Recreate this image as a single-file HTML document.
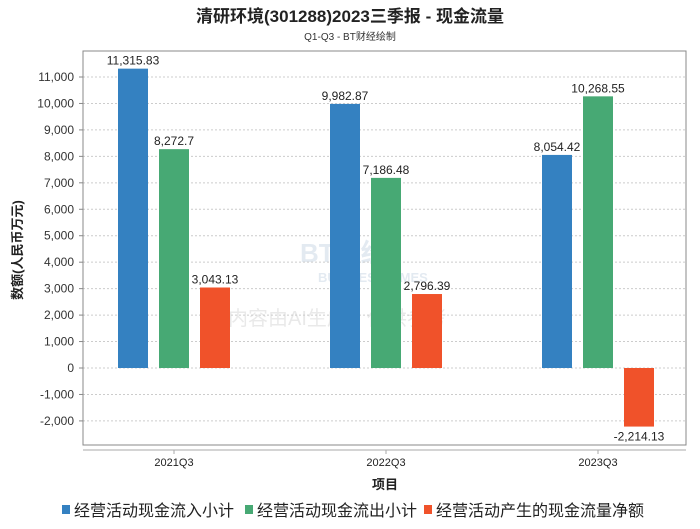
<!DOCTYPE html>
<html><head><meta charset="utf-8"><style>
body{margin:0;background:#fff;font-family:"Liberation Sans","Noto Sans CJK SC",sans-serif}
</style></head><body>
<svg width="700" height="524" xmlns="http://www.w3.org/2000/svg" font-family="Liberation Sans, Noto Sans CJK SC, sans-serif">
<text x="350" y="22" text-anchor="middle" font-size="17" font-weight="bold" fill="#222">清研环境(301288)2023三季报 - 现金流量</text>
<text x="350" y="40" text-anchor="middle" font-size="10" fill="#333">Q1-Q3 - BT财经绘制</text>
<g opacity="0.18">
<text x="300" y="262" font-size="26" font-weight="bold" fill="#6a8fb8">BT财经</text>
<text x="318" y="282" font-size="13" font-weight="bold" fill="#6a8fb8">BUSINESS TIMES</text>
<text x="228" y="325" font-size="20" fill="#888">内容由AI生成，仅供参考</text>
</g>
<g id="grid"></g>
<rect x="83" y="51" width="603" height="394" fill="none" stroke="#888"/>
<line x1="83" y1="450" x2="686" y2="450" stroke="#aaa"/>
<g id="bars"></g>
<text x="22" y="250" transform="rotate(-90 22 250)" text-anchor="middle" font-size="13" font-weight="bold" fill="#222">数额(人民币万元)</text>
<text x="385" y="489" text-anchor="middle" font-size="13" font-weight="bold" fill="#222">项目</text>
<g font-size="16" fill="#222">
<g><rect x="62" y="505" width="8" height="9" fill="#3481c1"/><text x="74" y="516">经营活动现金流入小计</text></g>
<g><rect x="245" y="505" width="8" height="9" fill="#47a974"/><text x="257" y="516">经营活动现金流出小计</text></g>
<g><rect x="424" y="505" width="8" height="9" fill="#f0522a"/><text x="436" y="516">经营活动产生的现金流量净额</text></g>
</g>
</svg>
<script>
const categories=["2021Q3","2022Q3","2023Q3"];
const inflow=[11315.83,9982.87,8054.42];
const outflow=[8272.7,7186.48,10268.55];
const net=[3043.13,2796.39,-2214.13];
const yTicks=[-2000,-1000,0,1000,2000,3000,4000,5000,6000,7000,8000,9000,10000,11000];
const NS="http://www.w3.org/2000/svg";
const y=v=>368-v*(291/11000);
const cx=i=>174+i*212;
const grid=document.getElementById('grid'),bars=document.getElementById('bars');
function mk(tag,attrs,parent,txt){const e=document.createElementNS(NS,tag);for(const k in attrs)e.setAttribute(k,attrs[k]);if(txt!==undefined)e.textContent=txt;parent.appendChild(e);return e;}
const fmt=v=>v.toLocaleString('en-US',{maximumFractionDigits:2});
yTicks.forEach(t=>{
 const l=mk('line',{x1:83,x2:686,y1:y(t),y2:y(t),stroke:'#ccc','stroke-dasharray':'2,2'},grid);
 
 
 const tx=mk('text',{x:74,y:y(t)+4,'text-anchor':'end','font-size':12,fill:'#333'},grid,t.toLocaleString('en-US'));
 
 
 mk('line',{x1:79,x2:83,y1:y(t),y2:y(t),stroke:'#888'},grid);
});
const series=[[inflow,'#3481c1',-41,'inflow'],[outflow,'#47a974',0,'outflow'],[net,'#f0522a',41,'net']];
categories.forEach((c,i)=>{
 const tl=mk('text',{x:cx(i),y:466,'text-anchor':'middle','font-size':11,fill:'#222'},bars,c);
 
 
 mk('line',{x1:cx(i),x2:cx(i),y1:450,y2:454,stroke:'#aaa'},bars);
 series.forEach(([arr,col,off,nm])=>{
  const v=arr[i],x=cx(i)+off-15,top=Math.min(y(v),y(0)),h=Math.abs(y(v)-y(0));
  const r=mk('rect',{x:x,y:top,width:30,height:h,fill:col},bars);
  
  
  const ly=v>=0?y(v)-4:y(v)+14;
  const lb=mk('text',{x:x+15,y:ly,'text-anchor':'middle','font-size':12,fill:'#222'},bars,fmt(v));
  
  
 });
});
</script>
</body></html>
